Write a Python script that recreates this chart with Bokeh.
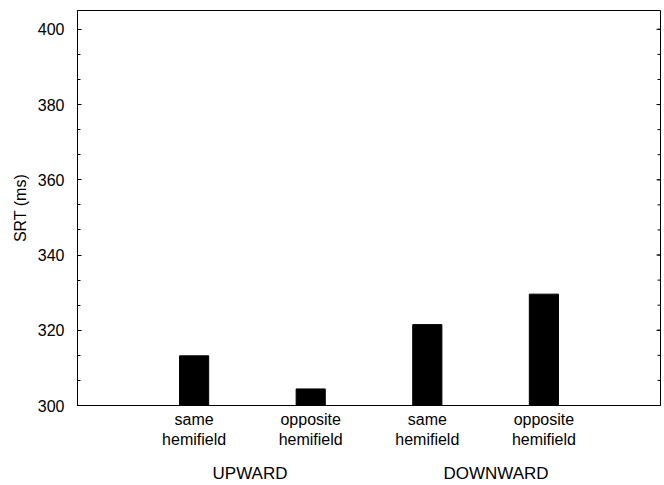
from bokeh.plotting import figure
from bokeh.models import LinearAxis, FixedTicker, Range1d, ColumnDataSource
from bokeh.embed import file_html
from bokeh.resources import INLINE
import math

conditions = ["same\nhemifield", "opposite\nhemifield", "same\nhemifield", "opposite\nhemifield"]
directions = ["UPWARD", "DOWNWARD"]
srt = [313.2, 304.4, 321.5, 329.6]
y_ticks = [300, 320, 340, 360, 380, 400]

xpos = list(range(1, len(conditions) + 1))
label_nudge = [-0.02, 0.09]
group_pos = [(xpos[2 * i] + xpos[2 * i + 1]) / 2 + label_nudge[i] for i in range(len(directions))]
minor = [300 + i * 20 / 3 for i in range(16)]
x_end = len(conditions) + 1

FONT = "Liberation Sans"

p = figure(width=664, height=485, output_backend="svg", toolbar_location=None,
           x_range=Range1d(0, x_end), y_range=Range1d(300, 405),
           min_border_top=10, min_border_right=4, min_border_left=77, min_border_bottom=0)
p.grid.visible = False
p.outline_line_color = "black"
p.outline_line_width = 1
p.background_fill_color = "white"
p.border_fill_color = "white"

src = ColumnDataSource(dict(x=xpos, top=srt))
p.vbar(x="x", top="top", bottom=300, width=0.25, source=src,
       fill_color="black", line_color="black")

# right-side inward ticks
p.ray(x=[x_end] * len(y_ticks), y=y_ticks, length=4, length_units="screen",
      angle=math.pi, line_color="black", line_width=1)
p.ray(x=[x_end] * len(minor), y=minor, length=3, length_units="screen",
      angle=math.pi, line_color="black", line_width=1)

# y axis (left)
ya = p.yaxis[0]
ya.ticker = FixedTicker(ticks=y_ticks, minor_ticks=minor)
ya.axis_label = "SRT (ms)"
ya.axis_label_text_font = FONT
ya.axis_label_text_font_size = "16px"
ya.axis_label_text_font_style = "normal"
ya.axis_label_text_color = "black"
ya.axis_label_standoff = 6
ya.major_label_text_font = FONT
ya.major_label_text_font_size = "16px"
ya.major_label_text_color = "black"
ya.major_tick_in = 4
ya.major_tick_out = 0
ya.minor_tick_in = 3
ya.minor_tick_out = 0
ya.major_label_standoff = 13
ya.axis_line_color = "black"
ya.major_tick_line_color = "black"
ya.minor_tick_line_color = "black"

# x axis: condition labels
xa = p.xaxis[0]
xa.ticker = FixedTicker(ticks=xpos)
xa.major_label_overrides = {x: c for x, c in zip(xpos, conditions)}
xa.major_label_text_font = FONT
xa.major_label_text_font_size = "16px"
xa.major_label_text_color = "black"
xa.major_tick_line_color = None
xa.minor_tick_line_color = None
xa.axis_line_color = "black"
xa.major_label_standoff = -1
xa.axis_label_standoff = 0

# x axis: direction labels
ga = LinearAxis(ticker=FixedTicker(ticks=group_pos))
ga.major_label_overrides = {g: d for g, d in zip(group_pos, directions)}
ga.major_label_text_font = FONT
ga.major_label_text_font_size = "17px"
ga.major_label_text_color = "black"
ga.major_tick_line_color = None
ga.minor_tick_line_color = None
ga.axis_line_color = None
ga.major_label_standoff = 7
ga.axis_label_standoff = 0
p.add_layout(ga, "below")

open("out.html", "w").write(file_html(p, INLINE))
